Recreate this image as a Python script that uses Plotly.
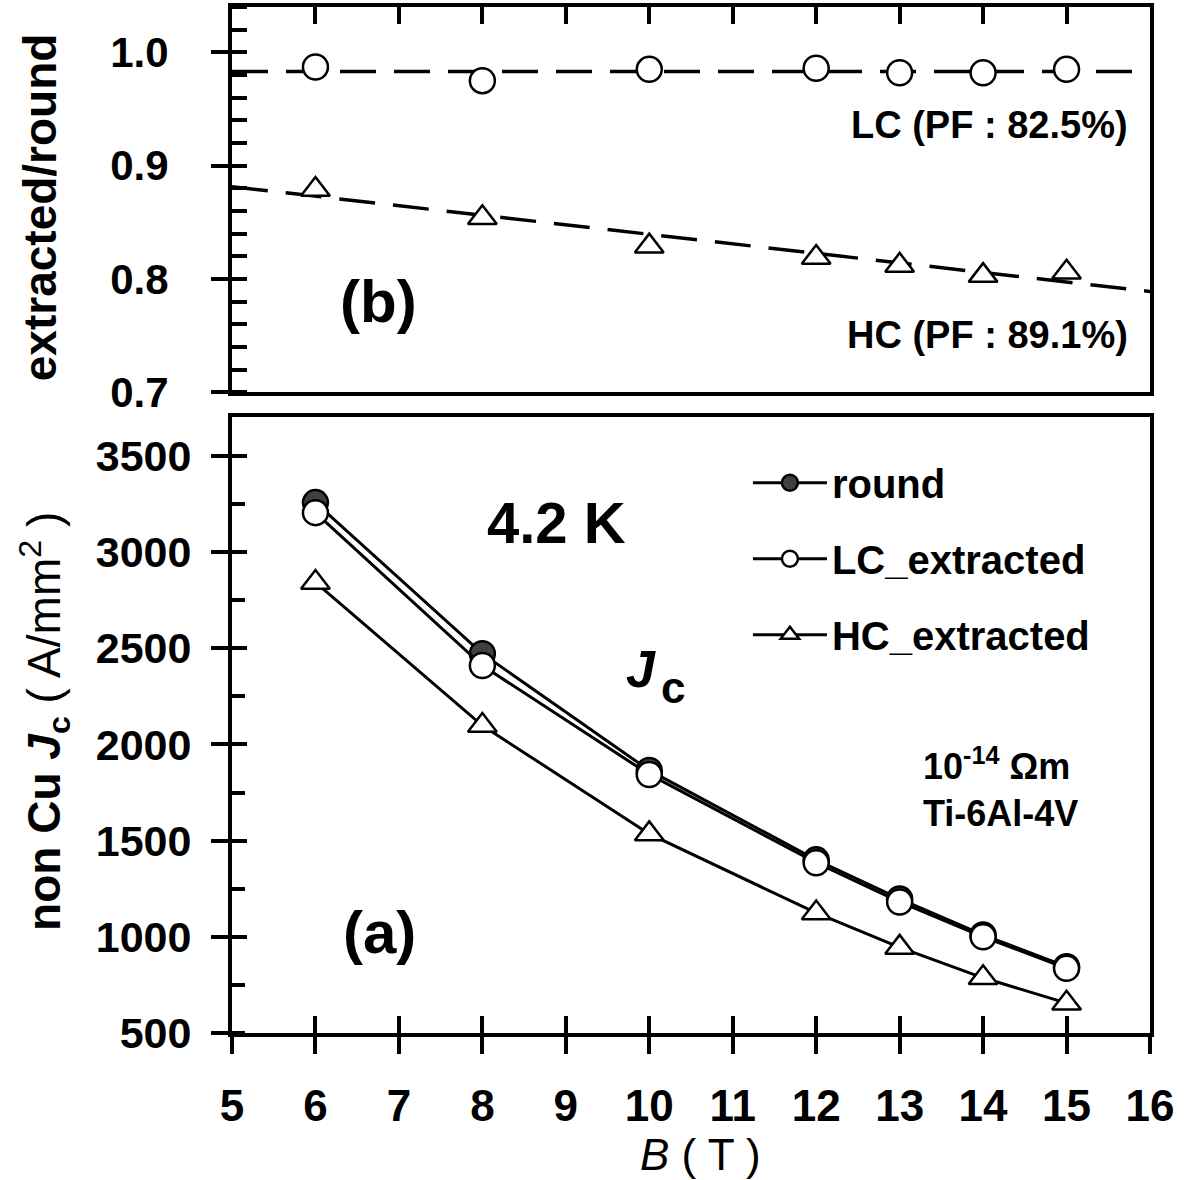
import plotly.graph_objects as go

# ---------------- data ----------------
B = [6, 8, 10, 12, 13, 14, 15]
jc_round = [3257, 2472, 1865, 1400, 1197, 1010, 845]
jc_lc = [3205, 2410, 1844, 1385, 1181, 1000, 836]
jc_hc = [2842, 2098, 1535, 1124, 945, 787, 655]

ratio_lc = [0.987, 0.975, 0.985, 0.986, 0.982, 0.982, 0.985]
ratio_hc = [0.879, 0.854, 0.829, 0.819, 0.812, 0.803, 0.806]

fit_B = [5, 16]
fit_lc = [0.983, 0.983]
fit_hc = [0.8815, 0.789]

x_ticks = list(range(5, 17))
top_yticks = [0.7, 0.8, 0.9, 1.0]
bot_yticks = [500, 1000, 1500, 2000, 2500, 3000, 3500]

FONT = "Liberation Sans, Arial, sans-serif"
BLACK = "black"

fig = go.Figure()

# ---------- top panel (b) ----------
fig.add_trace(go.Scatter(x=fit_B, y=fit_lc, mode="lines", xaxis="x", yaxis="y",
                         line=dict(color=BLACK, width=3.5, dash="36px,18px"),
                         showlegend=False, hoverinfo="skip"))
fig.add_trace(go.Scatter(x=fit_B, y=fit_hc, mode="lines", xaxis="x", yaxis="y",
                         line=dict(color=BLACK, width=3.5, dash="36px,18px"),
                         showlegend=False, hoverinfo="skip"))
fig.add_trace(go.Scatter(x=B, y=ratio_lc, mode="markers", xaxis="x", yaxis="y",
                         marker=dict(symbol="circle", size=25, color="white",
                                     line=dict(color=BLACK, width=2.5)),
                         showlegend=False))
fig.add_trace(go.Scatter(x=B, y=ratio_hc, mode="markers", xaxis="x", yaxis="y",
                         marker=dict(symbol="triangle-up", size=25, color="white",
                                     line=dict(color=BLACK, width=2.5)),
                         showlegend=False))

# ---------- bottom panel (a) ----------
fig.add_trace(go.Scatter(x=B, y=jc_round, mode="lines+markers", name="round",
                         xaxis="x2", yaxis="y2", legendgroup="g1",
                         line=dict(color=BLACK, width=3),
                         marker=dict(symbol="circle", size=25, color="#404040",
                                     line=dict(color=BLACK, width=2.5))))
fig.add_trace(go.Scatter(x=B, y=jc_lc, mode="lines+markers", name="LC_extracted",
                         xaxis="x2", yaxis="y2", legendgroup="g2",
                         line=dict(color=BLACK, width=3),
                         marker=dict(symbol="circle", size=25, color="white",
                                     line=dict(color=BLACK, width=2.5))))
fig.add_trace(go.Scatter(x=B, y=jc_hc, mode="lines+markers", name="HC_extracted",
                         xaxis="x2", yaxis="y2", legendgroup="g3",
                         line=dict(color=BLACK, width=3),
                         marker=dict(symbol="triangle-up", size=25, color="white",
                                     line=dict(color=BLACK, width=2.5))))

# helper invisible traces so overlay axes (cross ticks) get drawn
fig.add_trace(go.Scatter(x=[None], y=[None], xaxis="x", yaxis="y3",
                         showlegend=False, hoverinfo="skip"))
fig.add_trace(go.Scatter(x=[None], y=[None], xaxis="x2", yaxis="y4",
                         showlegend=False, hoverinfo="skip"))
fig.add_trace(go.Scatter(x=[None], y=[None], xaxis="x3", yaxis="y2",
                         showlegend=False, hoverinfo="skip"))

TOP_DOM = [0.6244, 1.0]
BOT_DOM = [0.0, 0.6]
common_line = dict(showline=True, linewidth=4, linecolor=BLACK, showgrid=False,
                   zeroline=False, tickcolor=BLACK, tickwidth=4)

fig.update_layout(
    width=1189, height=1180,
    margin=dict(l=232, r=39, t=7, b=147),
    paper_bgcolor="white", plot_bgcolor="white",
    font=dict(family=FONT, size=40, color=BLACK, weight="bold"),
    xaxis=dict(domain=[0, 1], anchor="y", range=[5, 16], tickvals=x_ticks,
               side="top", ticks="inside", ticklen=17, showticklabels=False,
               mirror=True, **common_line),
    yaxis=dict(domain=TOP_DOM, anchor="x", range=[0.7, 1.04], tickvals=top_yticks,
               tickformat=".1f", ticks="outside", ticklen=17, mirror=True,
               tickfont=dict(size=42), ticklabelstandoff=34,
               minor=dict(ticks="inside", ticklen=15, tickwidth=4, tickcolor=BLACK,
                          dtick=0.02, tick0=0.7, showgrid=False),
               **common_line),
    yaxis3=dict(overlaying="y", anchor="x", range=[0.7, 1.04], tickvals=top_yticks,
                ticks="inside", ticklen=15, tickwidth=4, tickcolor=BLACK,
                showticklabels=False, showline=False, showgrid=False, zeroline=False),
    xaxis2=dict(domain=[0, 1], anchor="y2", range=[5, 16], tickvals=x_ticks,
                ticks="outside", ticklen=17, mirror=True,
                tickfont=dict(size=44), ticklabelstandoff=14, **common_line),
    xaxis3=dict(overlaying="x2", anchor="y2", range=[5, 16], tickvals=x_ticks,
                ticks="inside", ticklen=17, tickwidth=4, tickcolor=BLACK,
                showticklabels=False, showline=False, showgrid=False, zeroline=False),
    yaxis2=dict(domain=BOT_DOM, anchor="x2", range=[500, 3700], tickvals=bot_yticks,
                ticks="outside", ticklen=17, mirror=True,
                tickfont=dict(size=43), ticklabelstandoff=11,
                minor=dict(ticks="inside", ticklen=13, tickwidth=4, tickcolor=BLACK,
                           dtick=250, tick0=500, showgrid=False),
                **common_line),
    yaxis4=dict(overlaying="y2", anchor="x2", range=[500, 3700], tickvals=bot_yticks,
                ticks="inside", ticklen=15, tickwidth=4, tickcolor=BLACK,
                showticklabels=False, showline=False, showgrid=False, zeroline=False),
    legend=dict(x=0.562, y=0.568, xanchor="left", yanchor="top",
                font=dict(size=40, weight="bold"), bgcolor="rgba(0,0,0,0)",
                itemwidth=74, tracegroupgap=21, traceorder="grouped"),
    showlegend=True,
)

ann = []
def A(text, x, y, xref, yref, size, xanchor="center", angle=0, **kw):
    ann.append(dict(text=text, x=x, y=y, xref=xref, yref=yref, showarrow=False,
                    xanchor=xanchor, yanchor="middle", textangle=angle,
                    font=dict(size=size, family=FONT, color=BLACK, weight="bold"), **kw))

A("(b)", 6.76, 0.780, "x", "y", 60)
A("LC (PF : 82.5%)", 15.76, 0.936, "x", "y", 38, xanchor="right")
A("HC (PF : 89.1%)", 15.76, 0.751, "x", "y", 38, xanchor="right")
A("(a)", 6.77, 1025, "x2", "y2", 60)
A("4.2 K", 8.89, 3152, "x2", "y2", 58)
A("<i>J</i>", 9.895, 2393, "x2", "y2", 52)
A("c", 10.29, 2294, "x2", "y2", 44)
A("10<sup>-14</sup> Ωm", 13.26, 1900, "x2", "y2", 36, xanchor="left")
A("Ti-6Al-4V", 13.26, 1639, "x2", "y2", 36, xanchor="left")

# axis titles
A("extracted/round", -0.209, 0.805, "paper", "paper", 46, angle=-90)
A("non Cu <i>J</i><sub>c</sub><span style='font-weight:normal'> ( A/mm<sup>2</sup> )</span>",
  -0.205, 0.304, "paper", "paper", 46, angle=-90)
A("<span style='font-weight:normal'><i>B</i> ( T )</span>", 0.51, -0.118, "paper", "paper", 44)

fig.update_layout(annotations=ann)

fig.write_html("out.html", config={"displayModeBar": False},
               post_script="document.body.style.margin='0px';document.body.style.padding='0px';")
